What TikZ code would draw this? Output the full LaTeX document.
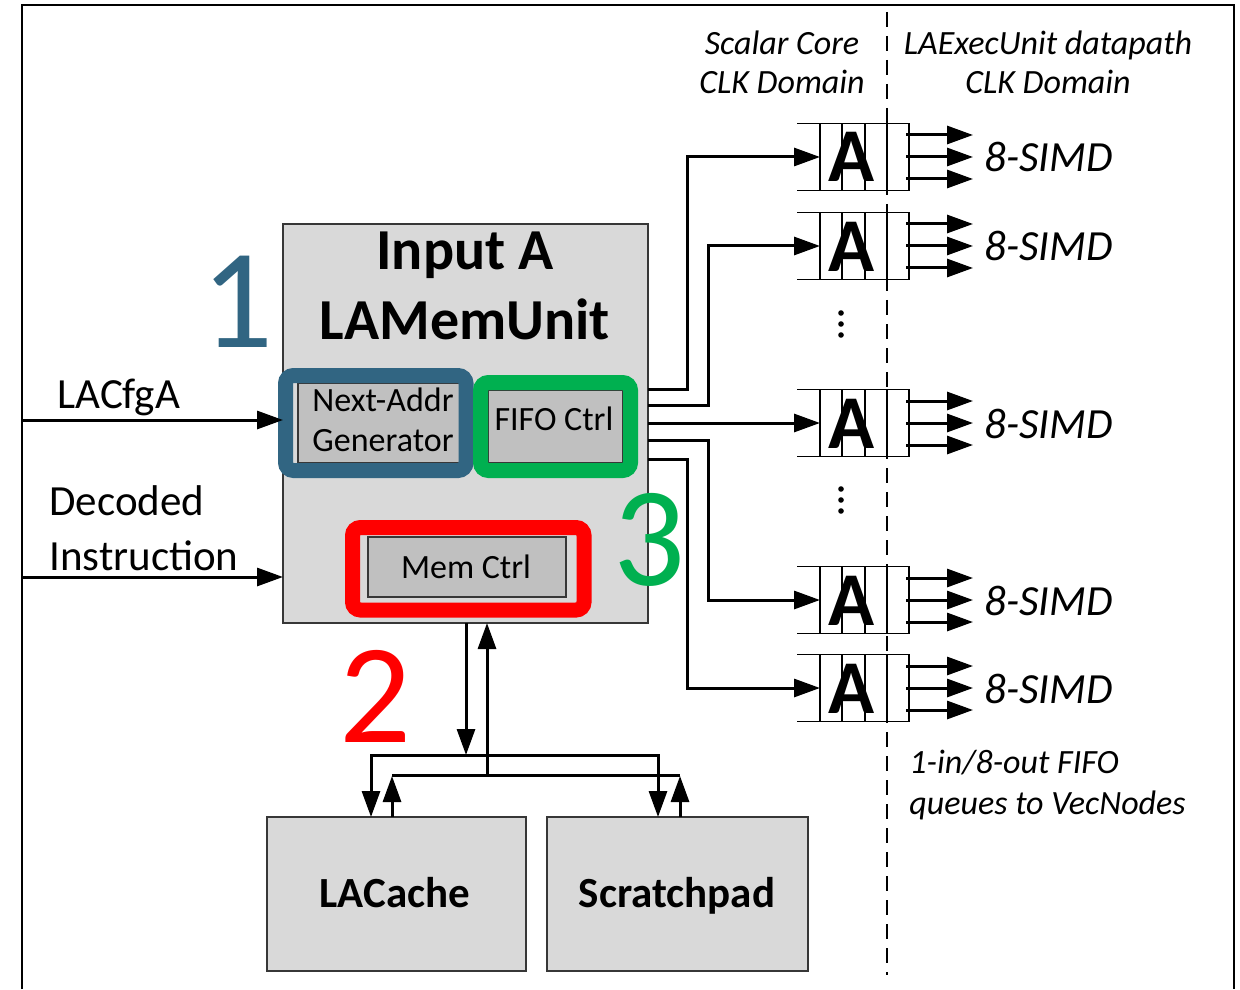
\documentclass[tikz,border=0pt]{standalone}
\usepackage{fontspec}
\setmainfont{Carlito}
\usetikzlibrary{arrows.meta}
\definecolor{hlblue}{RGB}{49,101,130}
\definecolor{hlgreen}{RGB}{0,176,80}
\definecolor{hlred}{RGB}{255,0,0}
\definecolor{boxfill}{RGB}{217,217,217}
\definecolor{innerfill}{RGB}{192,192,192}
\definecolor{edgegray}{RGB}{55,55,55}
\begin{document}
\begin{tikzpicture}[x=0.5pt,y=-0.5pt,
  conn/.style={line width=1.5pt,-{Triangle[length=13pt,width=9pt]}},
  plain/.style={line width=1.5pt},
  blockbox/.style={draw=edgegray,line width=1pt,fill=boxfill,inner sep=0pt,outer sep=0pt,anchor=north west},
  innerbox/.style={draw=edgegray,line width=0.8pt,fill=innerfill,inner sep=0pt,outer sep=0pt,anchor=north west},
  hlbox/.style={line width=7.5pt,rounded corners=4pt,inner sep=0pt,outer sep=0pt,anchor=north west},
  fifoline/.style={line width=0.9pt},
  txt/.style={inner sep=0pt,anchor=base},
  fsmall/.style={font=\fontsize{17}{20}\selectfont},
  fsmallit/.style={font=\fontsize{17}{20}\selectfont\itshape},
  fmed/.style={font=\fontsize{21.5}{26}\selectfont},
  fmedit/.style={font=\fontsize{21.5}{26}\selectfont\itshape},
  fmedbf/.style={font=\fontsize{21.5}{26}\selectfont\bfseries},
  fbig/.style={font=\fontsize{29}{34}\selectfont\bfseries},
  fhuge/.style={font=\fontsize{71}{80}\selectfont},
  fA/.style={font=\fontsize{38}{40}\selectfont\bfseries},
]
\useasboundingbox (0,0) rectangle (1240,989);
% outer frame
\draw[line width=1.4pt] (22,989) -- (22,5) -- (1234,5) -- (1234,989);
% clock domain divider
\draw[line width=0.8pt,dash pattern=on 7.5pt off 4.5pt] (887,12) -- (887,975);

% top labels
\node[txt,fsmallit] (sc1) at (782,55) {Scalar Core};
\node[txt,fsmallit] (sc2) at (782,94) {CLK Domain};
\node[txt,fsmallit] (la1) at (1048,55) {LAExecUnit datapath};
\node[txt,fsmallit] (la2) at (1048,94) {CLK Domain};

% main block
\node[blockbox,minimum width=365*0.5pt,minimum height=399*0.5pt] (main) at (283,224) {};
\node[txt,fbig] (t1) at (465,270) {Input A};
\node[txt,fbig] (t2) at (465,339) {LAMemUnit};

% inner boxes
\node[innerbox,minimum width=162*0.5pt,minimum height=80*0.5pt] (nag) at (298,383) {};
\node[txt,fsmall] (nagt1) at (383,411) {Next-Addr};
\node[txt,fsmall] (nagt2) at (383,451) {Generator};
\node[innerbox,minimum width=135*0.5pt,minimum height=73*0.5pt] (fifoc) at (488,390) {};
\node[txt,fsmall] (fifot) at (554,430) {FIFO Ctrl};
\node[innerbox,minimum width=198*0.5pt,minimum height=60*0.5pt] (memc) at (368,537) {};
\node[txt,fsmall] (memt) at (466,578) {Mem Ctrl};

% highlights
\node[hlbox,draw=hlblue,minimum width=180.5*0.5pt,minimum height=95*0.5pt] (hl1) at (285.5,375.5) {};
\node[hlbox,draw=hlgreen,minimum width=150*0.5pt,minimum height=88*0.5pt] (hl3) at (480.5,382.5) {};
\node[hlbox,draw=hlred,minimum width=231.5*0.5pt,minimum height=82.5*0.5pt] (hl2) at (352.5,527.5) {};

% big numbers
\node[txt,fhuge,text=hlblue] (n1) at (237,347) {1};
\node[txt,fhuge,text=hlred] (n2) at (375,742) {2};
\node[txt,fhuge,text=hlgreen] (n3) at (649,585) {3};

% inputs
\node[txt,fmed,anchor=base west] (cfg) at (57,408) {LACfgA};
\node[txt,fmed,anchor=base west] (dec1) at (49,515) {Decoded};
\node[txt,fmed,anchor=base west] (dec2) at (49,570) {Instruction};
\coordinate (cfgin) at (22,420);
\coordinate (decin) at (22,577);
\draw[conn] (cfgin) -- (main.west |- cfgin);
\draw[conn] (decin) -- (main.west |- decin);

% FIFOs
\foreach \i/\c in {1/157,2/246,3/423,4/600,5/688}{
  \draw[fifoline] (797,\c-33.5) -- (909,\c-33.5) -- (909,\c+33.5) -- (797,\c+33.5);
  \foreach \vx in {820,842,865,887}{
    \draw[fifoline] (\vx,\c-33.5) -- (\vx,\c+33.5);
  }
  \node[txt,fA] (A\i) at (852,\c+25) {A};
  \coordinate (in\i) at (820,\c);
  \foreach \dy in {-22,0,22}{
    \coordinate (src) at (906,\c+\dy);
    \coordinate (dst) at (973,\c+\dy);
    \draw[conn] (src) -- (dst);
  }
  \node[txt,fmedit,anchor=base west] (simd\i) at (984,\c+15) {8-SIMD};
}

% vertical dots
\foreach \yy in {313,324,335,489,500,511}{
  \fill (841,\yy) circle (1.4pt);
}

% main block to FIFOs
\coordinate (o1) at (648,389);
\coordinate (o2) at (648,405);
\coordinate (o3) at (648,423);
\coordinate (o4) at (648,440);
\coordinate (o5) at (648,459);
\draw[conn] (o1) -- (687,389) |- (in1);
\draw[conn] (o2) -- (708,405) |- (in2);
\draw[conn] (o3) -- (in3);
\draw[conn] (o4) -- (708,440) |- (in4);
\draw[conn] (o5) -- (687,459) |- (in5);

% FIFO caption
\node[txt,fsmallit,anchor=base west] (cap1) at (909,773) {1-in/8-out FIFO};
\node[txt,fsmallit,anchor=base west] (cap2) at (909,814) {queues to VecNodes};

% memories
\node[blockbox,minimum width=259*0.5pt,minimum height=154*0.5pt] (cache) at (267,817) {};
\node[txt,fmedbf] (cachet) at (395,907) {LACache};
\node[blockbox,minimum width=261*0.5pt,minimum height=154*0.5pt] (scr) at (547,817) {};
\node[txt,fmedbf] (scrt) at (677,907) {Scratchpad};

% memory buses
\coordinate (busA) at (466,755);
\coordinate (busB) at (487,775);
\draw[conn] (main.south -| busA) -- (busA);
\draw[plain] (371,755) -- (658,755);
\draw[plain] (392,775) -- (680,775);
\draw[conn] (busA) -| (cache.north -| 371,0);
\draw[conn] (busA) -| (scr.north -| 658,0);
\draw[conn] (cache.north -| 392,0) -- (392,776);
\draw[conn] (scr.north -| 680,0) -- (680,776);
\draw[conn] (busB) -- (main.south -| busB);
\end{tikzpicture}
\end{document}
